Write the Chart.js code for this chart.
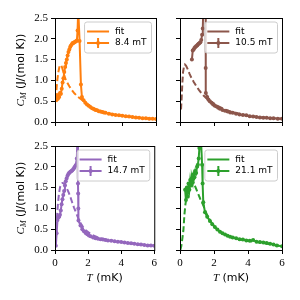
<!DOCTYPE html>
<html><head><meta charset="utf-8">
<script src="https://cdn.jsdelivr.net/npm/chart.js@4.4.0/dist/chart.umd.min.js"></script>
<style>
html,body{margin:0;padding:0;background:#fff;width:300px;height:300px;overflow:hidden}
canvas{position:absolute}
</style></head>
<body>
<canvas id="c1" width="160" height="140" style="left:0px;top:0px"></canvas>
<canvas id="c2" width="140" height="140" style="left:160px;top:0px"></canvas>
<canvas id="c3" width="160" height="172" style="left:0px;top:128px"></canvas>
<canvas id="c4" width="140" height="172" style="left:160px;top:128px"></canvas>
<script>
// ---- data ----
const xTicks = [0, 2, 4, 6];
const yTicks = [0.0, 0.5, 1.0, 1.5, 2.0, 2.5];
const labels = ["8.4 mT", "10.5 mT", "14.7 mT", "21.1 mT"];
const fitLabel = "fit";

// 8.4 mT
const T1 = [0.05,0.1,0.15,0.2,0.25,0.3,0.35,0.4,0.45,0.5,0.55,0.6,0.65,0.7,0.75,0.8,0.85,0.9,0.95,1.0,1.05,1.1,1.15,1.2,1.25,1.3,1.34,1.38,1.46,1.54,1.6,1.7,1.8,1.9,2.0,2.1,2.2,2.3,2.4,2.5,2.6,2.7,2.8,2.9,3.0,3.2,3.4,3.6,3.8,4.0,4.2,4.4,4.6,4.8,5.0,5.2,5.4,5.6,5.8,6.0];
const C1 = [0.52,0.6,0.55,0.65,0.6,0.7,0.68,0.8,0.95,1.05,1.2,1.32,1.42,1.5,1.6,1.68,1.74,1.8,1.84,1.87,1.9,1.9,1.92,1.93,1.94,1.96,2.2,2.7,1.95,0.9,0.6,0.52,0.46,0.42,0.39,0.36,0.33,0.31,0.29,0.28,0.26,0.25,0.24,0.23,0.22,0.2,0.18,0.17,0.16,0.15,0.14,0.13,0.12,0.11,0.1,0.09,0.09,0.08,0.08,0.07];
const FT1 = [0.05,0.1,0.15,0.2,0.26,0.32,0.38,0.45,0.55,0.65,0.75,0.85,0.95,1.05,1.15,1.25,1.35,1.45,1.55,1.7,1.9,2.2,2.6,3.0,3.5,4.0,4.5,5.0,5.5,6.0];
const FC1 = [0.55,0.85,1.05,1.2,1.32,1.37,1.36,1.27,1.12,1.0,0.93,0.86,0.8,0.74,0.69,0.65,0.61,0.58,0.55,0.5,0.43,0.35,0.28,0.23,0.18,0.15,0.12,0.1,0.085,0.07];

// 10.5 mT
const T2 = [0.7,0.75,0.8,0.85,0.9,0.95,1.0,1.05,1.1,1.15,1.2,1.25,1.3,1.34,1.4,1.51,1.51,1.52,1.6,1.67,1.75,1.85,1.95,2.05,2.15,2.25,2.35,2.5,2.65,2.8,2.95,3.1,3.3,3.5,3.7,3.9,4.1,4.3,4.5,4.7,4.9,5.1,5.3,5.5,5.75,6.0];
const C2 = [1.5,1.72,1.74,1.78,1.8,1.82,1.84,1.86,1.88,1.9,1.92,1.97,2.1,2.25,3.2,3.0,1.3,0.7,0.6,0.54,0.5,0.46,0.42,0.39,0.37,0.34,0.32,0.29,0.27,0.25,0.23,0.22,0.2,0.18,0.17,0.16,0.14,0.13,0.12,0.11,0.1,0.1,0.09,0.09,0.08,0.08];
const FT2 = [0.06,0.1,0.14,0.18,0.23,0.29,0.36,0.45,0.55,0.65,0.8,0.95,1.1,1.25,1.4,1.55,1.7,1.9,2.2,2.6,3.0,3.5,4.0,4.5,5.0,5.5,6.0];
const FC2 = [0.3,0.6,0.95,1.2,1.33,1.38,1.35,1.27,1.17,1.08,0.97,0.87,0.78,0.7,0.63,0.57,0.53,0.47,0.39,0.31,0.25,0.2,0.15,0.12,0.1,0.09,0.08];

// 14.7 mT
const T3 = [0.05,0.1,0.15,0.2,0.25,0.3,0.35,0.4,0.45,0.5,0.55,0.6,0.65,0.7,0.75,0.8,0.85,0.9,0.95,1.0,1.05,1.1,1.15,1.2,1.25,1.32,1.36,1.39,1.4,1.41,1.42,1.54,1.65,1.75,1.85,1.95,2.05,2.15,2.3,2.45,2.6,2.75,2.9,3.05,3.2,3.4,3.6,3.8,4.0,4.2,4.4,4.6,4.8,5.0,5.2,5.4,5.6,5.8,6.0];
const C3 = [0.1,0.4,0.72,0.78,0.8,0.85,0.95,1.1,1.22,1.32,1.42,1.55,1.65,1.72,1.78,1.82,1.85,1.87,1.89,1.9,1.92,1.94,1.97,2.0,2.04,2.2,2.8,1.6,1.36,1.0,0.71,0.59,0.5,0.45,0.41,0.38,0.35,0.33,0.3,0.28,0.27,0.26,0.25,0.24,0.23,0.22,0.21,0.2,0.19,0.18,0.17,0.16,0.15,0.14,0.13,0.12,0.11,0.11,0.1];
const FT3 = [0.03,0.08,0.13,0.18,0.24,0.3,0.36,0.45,0.55,0.65,0.75,0.85,0.95,1.05,1.15,1.25,1.35,1.45,1.55,1.7,1.9,2.2,2.6,3.0,3.5,4.0,4.5,5.0,5.5,6.0];
const FC3 = [0.1,0.45,0.85,1.12,1.35,1.5,1.58,1.61,1.6,1.55,1.45,1.36,1.25,1.13,1.02,0.92,0.82,0.72,0.64,0.55,0.46,0.37,0.3,0.26,0.22,0.19,0.16,0.14,0.12,0.1];

// 21.1 mT
const T4 = [0.3,0.35,0.4,0.45,0.5,0.55,0.6,0.65,0.7,0.75,0.8,0.85,0.9,0.95,1.0,1.05,1.1,1.14,1.18,1.24,1.3,1.33,1.37,1.47,1.6,1.76,1.9,2.05,2.2,2.35,2.5,2.65,2.8,2.95,3.1,3.3,3.5,3.7,3.9,4.1,4.3,4.5,4.7,4.9,5.1,5.3,5.5,5.7,6.0];
const C4 = [1.45,1.2,1.5,1.28,1.6,1.45,1.68,1.55,1.72,1.62,1.82,1.75,1.9,1.85,2.0,2.05,2.2,2.45,2.7,2.6,2.05,1.6,1.15,0.91,0.8,0.7,0.62,0.55,0.49,0.44,0.4,0.37,0.34,0.32,0.3,0.28,0.26,0.25,0.23,0.22,0.24,0.2,0.19,0.18,0.17,0.15,0.13,0.11,0.09];
const FT4 = [0.02,0.08,0.14,0.2,0.26,0.32,0.4,0.5,0.6,0.7,0.8,0.9,1.0,1.1,1.2,1.3,1.4,1.5,1.65,1.8,2.0,2.3,2.7,3.1,3.5,4.0,4.5,5.0,5.5,6.0];
const FC4 = [0.0,0.1,0.28,0.47,0.85,1.1,1.3,1.45,1.55,1.6,1.58,1.52,1.42,1.32,1.22,1.14,1.04,0.93,0.8,0.69,0.57,0.45,0.36,0.3,0.26,0.22,0.19,0.16,0.12,0.09];

const colors = ["#ff7f0e", "#8c564b", "#9467bd", "#2ca02c"];

// ---- drawing ----
Chart.defaults.color = '#000';
Chart.defaults.animation = false;
const SANS = '"DejaVu Sans", sans-serif';
const SERIF = '"Liberation Serif", serif';

function pts(T, C){ return T.map((t,i)=>({x:t, y:C[i]})); }

function roundRect(ctx, x, y, w, h, r){
  ctx.beginPath();
  ctx.moveTo(x+r, y); ctx.lineTo(x+w-r, y); ctx.arcTo(x+w, y, x+w, y+r, r);
  ctx.lineTo(x+w, y+h-r); ctx.arcTo(x+w, y+h, x+w-r, y+h, r);
  ctx.lineTo(x+r, y+h); ctx.arcTo(x, y+h, x, y+h-r, r);
  ctx.lineTo(x, y+r); ctx.arcTo(x, y, x+r, y, r);
  ctx.closePath();
}

const deco = {
  id: 'deco',
  afterDraw(chart, args, o){
    const ctx = chart.ctx, a = chart.chartArea;
    ctx.save();
    // frame
    ctx.strokeStyle = '#000'; ctx.lineWidth = 1;
    ctx.strokeRect(a.left+0.5, a.top+0.5, a.right-a.left, a.bottom-a.top);
    // legend
    ctx.font = '9px ' + SANS;
    const tw = Math.max(ctx.measureText(fitLabel).width, ctx.measureText(o.label).width);
    const bw = 2.5 + 22 + 6 + tw + 5, bh = 31;
    const bx = a.right - 4.5 - bw, by = a.top + 4;
    roundRect(ctx, bx, by, bw, bh, 2.5);
    ctx.fillStyle = 'rgba(255,255,255,0.8)'; ctx.fill();
    ctx.strokeStyle = '#cccccc'; ctx.lineWidth = 1; ctx.stroke();
    const y1 = by + 9.5, y2 = by + 21;
    const lx0 = bx + 2.5, lx1 = bx + 24.5, lxm = (lx0+lx1)/2;
    ctx.strokeStyle = o.color; ctx.lineWidth = 2;
    ctx.beginPath(); ctx.moveTo(lx0, y1); ctx.lineTo(lx1, y1); ctx.stroke();
    ctx.beginPath(); ctx.moveTo(lx0, y2); ctx.lineTo(lx1, y2); ctx.stroke();
    ctx.beginPath(); ctx.moveTo(lxm, y2-5); ctx.lineTo(lxm, y2+5); ctx.stroke();
    ctx.fillStyle = o.color; ctx.beginPath(); ctx.arc(lxm, y2, 2, 0, Math.PI*2); ctx.fill();
    ctx.fillStyle = '#000'; ctx.textBaseline = 'middle'; ctx.textAlign = 'left';
    ctx.fillText(fitLabel, bx + 30.5, y1);
    ctx.fillText(o.label, bx + 30.5, y2);
    // y title
    if (o.yTitle){
      const cy = (a.top + a.bottom)/2;
      ctx.save();
      ctx.translate(20, cy); ctx.rotate(-Math.PI/2);
      const fC = 'italic 11px ' + SERIF, fM = 'italic 8px ' + SERIF, fR = '11px ' + SANS;
      ctx.font = fC; const wC = ctx.measureText('C').width;
      ctx.font = fM; const wM = ctx.measureText('M').width;
      ctx.font = fR; const rest = ' (J/(mol K))'; const wR = ctx.measureText(rest).width;
      let x = -(wC + wM + wR)/2;
      ctx.textBaseline = 'alphabetic'; ctx.textAlign = 'left';
      ctx.font = fC; ctx.fillText('C', x, 4); x += wC;
      ctx.font = fM; ctx.fillText('M', x, 6); x += wM;
      ctx.font = fR; ctx.fillText(rest, x, 4);
      ctx.restore();
    }
    // x title
    if (o.xTitle){
      const cx = (a.left + a.right)/2, yy = a.bottom + 28;
      const fT = 'italic 11px ' + SERIF, fR = '11px ' + SANS;
      ctx.font = fT; const wT = ctx.measureText('T').width;
      ctx.font = fR; const rest = ' (mK)'; const wR = ctx.measureText(rest).width;
      let x = cx - (wT + wR)/2;
      ctx.textBaseline = 'middle'; ctx.textAlign = 'left';
      ctx.font = fT; ctx.fillText('T', x, yy); x += wT;
      ctx.font = fR; ctx.fillText(rest, x, yy);
    }
    ctx.restore();
  }
};

function makeChart(id, idx, T, C, FT, FC, cfg){
  const color = colors[idx];
  new Chart(document.getElementById(id), {
    type: 'line',
    data: {
      datasets: [
        { data: pts(T, C), borderColor: color, backgroundColor: color, borderWidth: 2,
          pointRadius: 2, pointBorderWidth: 0, pointBackgroundColor: color, tension: 0, clip: 0 },
        { data: pts(FT, FC), borderColor: color, borderWidth: 2, borderDash: [6, 3],
          pointRadius: 0, tension: 0, clip: 0 }
      ]
    },
    options: {
      responsive: false, animation: false, devicePixelRatio: 1,
      layout: { padding: { left: 0, top: 18, right: cfg.padRight, bottom: 0 } },
      plugins: { legend: { display: false }, tooltip: { enabled: false },
        deco: { label: labels[idx], color: color, yTitle: cfg.showY, xTitle: cfg.showX } },
      scales: {
        x: { type: 'linear', min: 0, max: 6,
          afterBuildTicks: s => { s.ticks = xTicks.map(v => ({ value: v })); },
          afterFit: s => { s.height = cfg.xh; },
          border: { display: false },
          grid: { display: true, drawOnChartArea: false, drawTicks: true, tickLength: 4, color: '#000', lineWidth: 1 },
          ticks: { padding: 3, maxRotation: 0, autoSkip: false, font: { family: SERIF, size: 11 },
            callback: v => cfg.showX ? String(v) : '' } },
        y: { type: 'linear', min: 0, max: 2.5,
          afterBuildTicks: s => { s.ticks = yTicks.map(v => ({ value: v })); },
          afterFit: s => { s.width = cfg.yw; },
          border: { display: false },
          grid: { display: true, drawOnChartArea: false, drawTicks: true, tickLength: 4, color: '#000', lineWidth: 1 },
          ticks: { padding: 3, autoSkip: false, font: { family: SERIF, size: 11 },
            callback: v => cfg.showY ? Number(v).toFixed(1) : '' } }
      }
    },
    plugins: [deco]
  });
}

makeChart('c1', 0, T1, C1, FT1, FC1, { showX: false, showY: true, yw: 55, xh: 18, padRight: 3 });
makeChart('c2', 1, T2, C2, FT2, FC2, { showX: false, showY: false, yw: 20, xh: 18, padRight: 18 });
makeChart('c3', 2, T3, C3, FT3, FC3, { showX: true, showY: true, yw: 55, xh: 50, padRight: 3 });
makeChart('c4', 3, T4, C4, FT4, FC4, { showX: true, showY: false, yw: 20, xh: 50, padRight: 18 });
</script>
</body></html>
